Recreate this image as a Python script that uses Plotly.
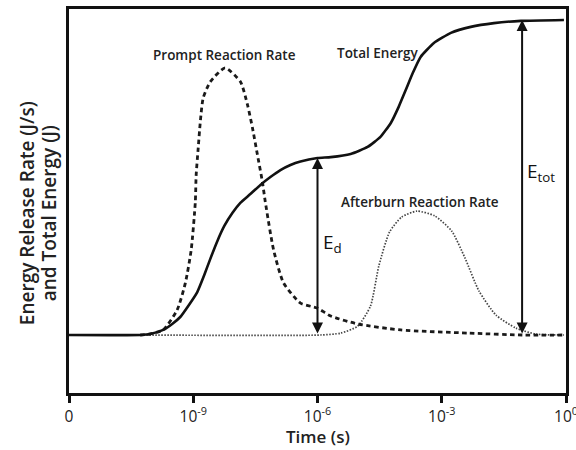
import plotly.graph_objects as go

# x values are log10(time in s); the left edge "0" is drawn at 10^-12
tick_vals = [-12, -9, -6, -3, 0]
tick_text = ["0", "10<sup>-9</sup>", "10<sup>-6</sup>", "10<sup>-3</sup>", "10<sup>0</sup>"]

# Total energy (solid)
total_x = [-12.0, -10.28, -10.04, -9.726, -9.508, -9.314, -9.121, -8.903, -8.734, -8.588,
           -8.419, -8.250, -8.056, -7.863, -7.621, -7.379, -7.137, -6.895, -6.653, -6.411,
           -6.00, -5.68, -5.20, -4.79, -4.48, -4.23, -4.04, -3.87, -3.70, -3.51,
           -3.19, -2.78, -2.30, -1.74, -1.09, -0.05]
total_y = [0.0, 0.0, 0.003, 0.016, 0.035, 0.057, 0.092, 0.136, 0.190, 0.241,
           0.297, 0.345, 0.386, 0.418, 0.446, 0.475, 0.500, 0.522, 0.538, 0.549,
           0.560, 0.563, 0.573, 0.595, 0.627, 0.671, 0.722, 0.775, 0.829, 0.880,
           0.924, 0.956, 0.975, 0.987, 0.994, 0.997]

# Prompt reaction rate (dashed)
prompt_x = [-10.28, -10.11, -9.73, -9.39, -9.19, -9.05, -8.95, -8.93, -8.88, -8.83,
            -8.76, -8.59, -8.23, -7.86, -7.69, -7.57, -7.45, -7.33, -7.26, -7.06,
            -6.82, -6.41, -6.00, -5.68, -5.03, -3.99, -2.35, -1.06, -0.05]
prompt_y = [0.0, 0.002, 0.016, 0.079, 0.165, 0.269, 0.421, 0.506, 0.592, 0.674,
            0.750, 0.801, 0.845, 0.801, 0.728, 0.655, 0.570, 0.484, 0.421, 0.269,
            0.165, 0.101, 0.085, 0.060, 0.035, 0.016, 0.006, 0.0, 0.0]

# Afterburn reaction rate (dotted)
after_x = [-10.28, -5.93, -5.44, -5.03, -4.72, -4.52, -4.26, -3.97, -3.60, -3.17,
           -2.76, -2.44, -2.10, -1.69, -1.21, -0.73, -0.05]
after_y = [0.0, 0.0, 0.006, 0.028, 0.092, 0.218, 0.326, 0.373, 0.392, 0.377,
           0.329, 0.244, 0.139, 0.063, 0.022, 0.003, 0.0]

# Arrow positions (x) and energy levels
ed_x, ed_level = -6.0, 0.56
etot_x, etot_level = -1.06, 0.997

FONT = "Open Sans"

fig = go.Figure()
fig.add_trace(go.Scatter(x=after_x, y=after_y, mode="lines",
                         line=dict(color="#444444", width=1.7, dash="1.5px,1.5px", shape="spline", smoothing=0.6),
                         hoverinfo="skip"))
fig.add_trace(go.Scatter(x=prompt_x, y=prompt_y, mode="lines",
                         line=dict(color="#1a1a1a", width=2.8, dash="4.5px,3.5px", shape="spline", smoothing=0.6),
                         hoverinfo="skip"))
fig.add_trace(go.Scatter(x=total_x, y=total_y, mode="lines",
                         line=dict(color="#111111", width=2.6, shape="spline", smoothing=0.5),
                         hoverinfo="skip"))

ann = []
for ax_, top in [(ed_x, ed_level), (etot_x, etot_level)]:
    ann.append(dict(x=ax_, y=top, ax=ax_, ay=0.0, xref="x", yref="y", axref="x", ayref="y",
                    text="", showarrow=True, arrowhead=2, arrowside="end+start",
                    arrowsize=1.1, arrowwidth=2, arrowcolor="#111111", standoff=0, startstandoff=0))

lab_font = dict(family=FONT, size=13.5, color="#222222", weight=600)
title_font = dict(family=FONT, size=19, color="#222222", weight=600)
ann += [
    dict(x=-8.25, y=0.885, text="Prompt Reaction Rate", showarrow=False, font=lab_font),
    dict(x=-4.55, y=0.893, text="Total Energy", showarrow=False, font=lab_font),
    dict(x=-3.53, y=0.421, text="Afterburn Reaction Rate", showarrow=False, font=lab_font),
    dict(x=-5.92, y=0.29, text="E<sub>d</sub>", showarrow=False, xanchor="left",
         font=dict(family=FONT, size=19, color="#111111")),
    dict(x=-1.0, y=0.515, text="E<sub>tot</sub>", showarrow=False, xanchor="left",
         font=dict(family=FONT, size=19, color="#111111")),
    dict(x=-0.0847, y=0.468, xref="paper", yref="paper", xanchor="center", yanchor="middle",
         text="Energy Release Rate (J/s)", textangle=-90, showarrow=False, font=title_font),
    dict(x=-0.0403, y=0.468, xref="paper", yref="paper", xanchor="center", yanchor="middle",
         text="and Total Energy (J)", textangle=-90, showarrow=False, font=title_font),
    dict(x=0.5, y=-0.112, xref="paper", yref="paper", xanchor="center", yanchor="middle",
         text="Time (s)", showarrow=False,
         font=dict(family=FONT, size=17, color="#222222", weight=600)),
]

fig.update_layout(
    width=576, height=450,
    margin=dict(l=69, r=10, t=9, b=57, autoexpand=False),
    paper_bgcolor="white", plot_bgcolor="white",
    showlegend=False,
    annotations=ann,
    xaxis=dict(range=[-12, 0], tickvals=tick_vals, ticktext=tick_text, ticks="outside",
               ticklen=7, tickwidth=2.5, tickcolor="#111111", showgrid=False, zeroline=False,
               showline=True, linewidth=2.8, linecolor="#111111", mirror=True, automargin=False,
               ticklabeloverflow="allow",
               tickfont=dict(family=FONT, size=15.5, color="#222222")),
    yaxis=dict(range=[-0.1835, 1.0316], showticklabels=False, ticks="", showgrid=False,
               automargin=False,
               zeroline=False, showline=True, linewidth=2.8, linecolor="#111111", mirror=True),
)

fig.write_html("out.html", config={"displayModeBar": False},
               post_script="document.body.style.margin='0px';document.body.style.overflow='hidden';")
